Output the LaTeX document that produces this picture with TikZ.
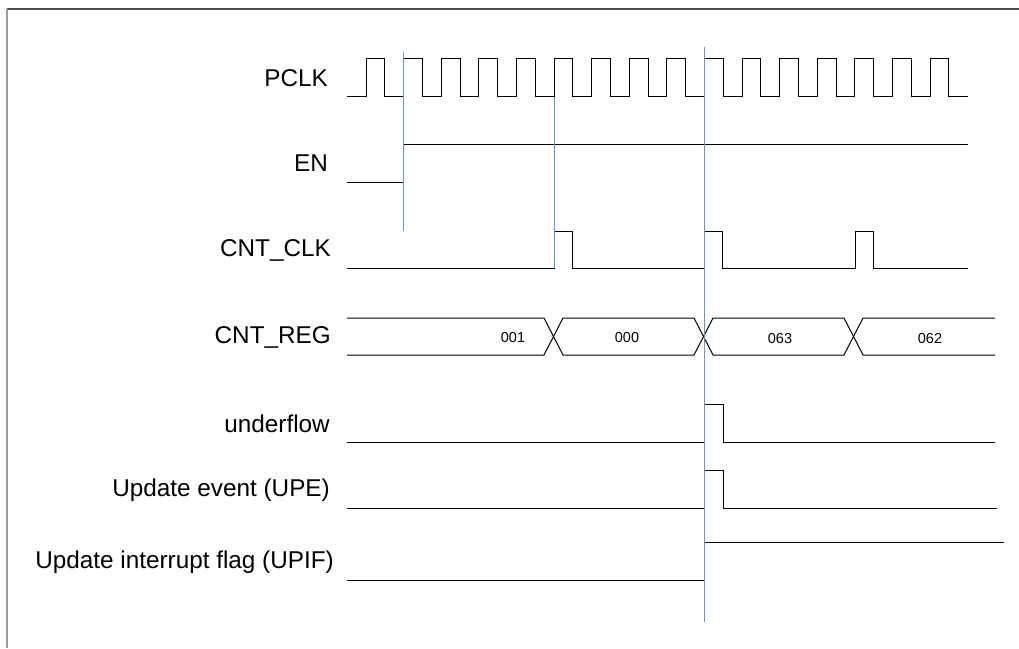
\documentclass[tikz,border=0pt]{standalone}
\usepackage{fontspec}
\setmainfont{Liberation Sans}
\usepackage{xcolor}
\usetikzlibrary{positioning,calc}
\definecolor{markblue}{RGB}{91,155,213}

\begin{document}
\begin{tikzpicture}[x=1pt,y=-1pt,
  wave/.style={draw=black,line width=1pt},
  marker/.style={draw=markblue,line width=0.9pt},
  signame/.style={anchor=east,inner sep=0pt,font=\fontsize{24.3}{27}\selectfont},
  busval/.style={inner sep=0pt,font=\fontsize{14.5}{16}\selectfont}]
  \useasboundingbox (0,0) rectangle (1019,648);
  % frame
  \draw[black!70,line width=1.2pt] (7,9) -- (1019,9);
  \draw[black!40,line width=1.2pt] (7,9) -- (7,648);
  % signal names
  \node[signame] (pclk) at (328,78) {PCLK};
  \node[signame] (en) at (328,163) {EN};
  \node[signame] (cntclk) at (331,250) {CNT\_CLK};
  \node[signame] (cntreg) at (331,337) {CNT\_REG};
  \node[signame] (uf) at (330,424) {underflow};
  \node[signame] (upe) at (330,490) {Update event (UPE)};
  \node[signame] (upif) at (334,562) {Update interrupt flag (UPIF)};
  % PCLK
  \draw[wave] (347,96) foreach \k in {0,...,15}{
    -- ({366+37.6*\k},96) -- ++(0,-38) -- ++(18.8,0) -- ++(0,38)} -- (968,96);
  % EN
  \draw[wave] (347,182) -- (403,182) -- (403,144) -- (968,144);
  % CNT_CLK
  \draw[wave] (347,268) foreach \t in {554,704,855}{
    -- (\t,268) -- ++(0,-37) -- ++(18.8,0) -- ++(0,37)} -- (968,268);
  % CNT_REG
  \draw[wave] (347,318) -- (544,318) -- (563,355) -- (694,355) -- (713,318)
    -- (844,318) -- (863,355) -- (995,355);
  \draw[wave] (347,355) -- (544,355) -- (563,318) -- (694,318) -- (713,355)
    -- (844,355) -- (863,318) -- (995,318);
  \node[busval] (v001) at (513,338) {001};
  \node[busval] (v000) at (627,338) {000};
  \node[busval] (v063) at (780,339) {063};
  \node[busval] (v062) at (930,339) {062};
  % underflow, UPE, UPIF
  \draw[wave] (347,442) -- (704,442) -- (704,404) -- (723,404) -- (723,442) -- (995,442);
  \draw[wave] (347,508) -- (704,508) -- (704,470) -- (723,470) -- (723,508) -- (997,508);
  \draw[wave] (347,580) -- (704,580) -- (704,542) -- (1004,542);
  % markers
  \draw[marker] (403,52) -- (403,231);
  \draw[marker] (554,97) -- (554,268);
  \draw[marker] (704,47) -- (704,622);
\end{tikzpicture}
\end{document}
